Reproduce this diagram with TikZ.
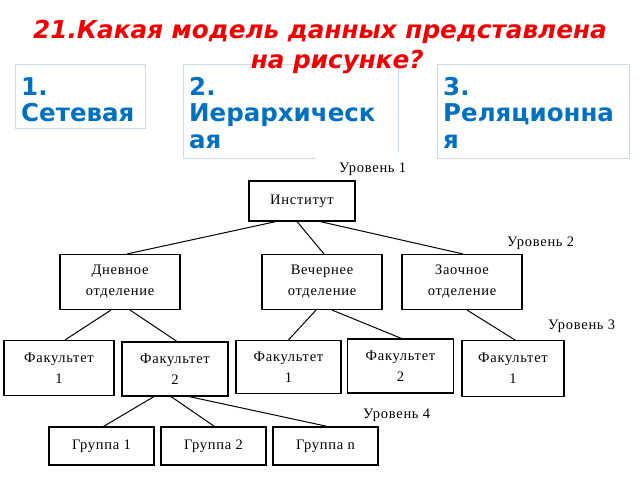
\documentclass[tikz,border=0pt]{standalone}
\usepackage{fontspec}
\setmainfont{Liberation Serif}[LetterSpace=5]
\newfontfamily\dvs{DejaVu Sans}
\definecolor{ansblue}{RGB}{0,112,192}
\definecolor{ansframe}{RGB}{205,218,232}
\definecolor{ttlred}{RGB}{240,0,0}
\begin{document}
\begin{tikzpicture}[x=1pt,y=-1pt,
  ans/.style={anchor=north west,align=left,inner sep=0pt,text=ansblue,font=\dvs\bfseries\fontsize{24.5}{26.5}\selectfont},
  frame/.style={draw=ansframe,line width=1pt},
  box/.style={draw=black,line width=1.1pt,inner sep=0pt,align=center,font=\fontsize{14.5}{21}\selectfont},
  lvl/.style={anchor=west,inner sep=0pt,font=\fontsize{14.5}{15}\selectfont},
  con/.style={draw=black,line width=1pt}]
\useasboundingbox (0,0) rectangle (640,480);
\fill[white] (0,0) rectangle (640,480);
% answer frames
\draw[frame] (15,64) rectangle (145,128);
\draw[frame] (315,158) -- (183,158) -- (183,64) -- (398,64) -- (398,152);
\draw[frame] (437,64) rectangle (629,158);
% title
\node[text=ttlred,align=center,inner sep=0pt,font=\dvs\bfseries\itshape\fontsize{24.7}{30}\selectfont] (title) at (320,47) {21.Какая модель данных представлена\\ \hspace*{1.4em}на рисунке?};
\node[ans] (a1) at (21,77) {1.\\Сетевая};
\node[ans] (a2) at (189,77) {2.\\Иерархическ\\ая};
\node[ans] (a3) at (443,77) {3.\\Реляционна\\я};
% tree
\node[box,minimum width=106,minimum height=40] (inst) at (302,201) {Институт};
\node[box,minimum width=120,minimum height=55] (dn) at (120,282) {Дневное\\отделение};
\node[box,minimum width=120,minimum height=55] (ve) at (322,282) {Вечернее\\отделение};
\node[box,minimum width=120,minimum height=55] (za) at (462,282) {Заочное\\отделение};
\node[box,minimum width=110,minimum height=55] (f1) at (59,368) {Факультет\\1};
\node[box,minimum width=106,minimum height=54] (f2) at (175,369) {Факультет\\2};
\node[box,minimum width=105,minimum height=53] (f3) at (288.5,367) {Факультет\\1};
\node[box,minimum width=106,minimum height=54] (f4) at (400.5,366) {Факультет\\2};
\node[box,minimum width=102,minimum height=56] (f5) at (513,368.5) {Факультет\\1};
\node[box,minimum width=105,minimum height=38] (g1) at (101.5,446) {Группа 1};
\node[box,minimum width=105,minimum height=38] (g2) at (213.5,446) {Группа 2};
\node[box,minimum width=105,minimum height=38] (gn) at (325.5,446) {Группа n};
% levels
\node[lvl] (l1) at (339,169) {Уровень 1};
\node[lvl] (l2) at (507,243) {Уровень 2};
\node[lvl] (l3) at (548,326) {Уровень 3};
\node[lvl] (l4) at (363,415) {Уровень 4};
% connectors
\draw[con] ([xshift=-26]inst.south) -- ([xshift=7]dn.north);
\draw[con] ([xshift=-5]inst.south) -- ([xshift=2]ve.north);
\draw[con] ([xshift=18]inst.south) -- ([xshift=1]za.north);
\draw[con] ([xshift=-9]dn.south) -- ([xshift=6]f1.north);
\draw[con] ([xshift=10]dn.south) -- ([xshift=2]f2.north);
\draw[con] ([xshift=-6]ve.south) -- ([xshift=0]f3.north);
\draw[con] ([xshift=10]ve.south) -- ([xshift=1]f4.north);
\draw[con] ([xshift=5]za.south) -- ([xshift=2]f5.north);
\draw[con] ([xshift=-21]f2.south) -- ([xshift=2]g1.north);
\draw[con] ([xshift=-4]f2.south) -- ([xshift=1]g2.north);
\draw[con] ([xshift=14]f2.south) -- ([xshift=2]gn.north);
\end{tikzpicture}
\end{document}
